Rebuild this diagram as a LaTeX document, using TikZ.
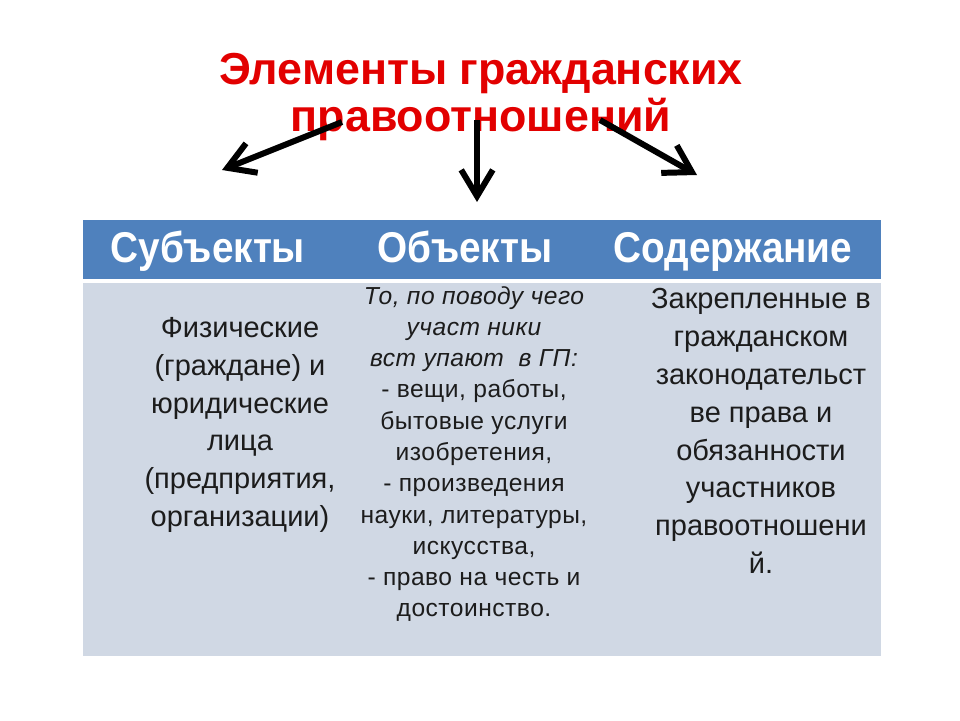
\documentclass[tikz,border=0pt]{standalone}
\usepackage{fontspec}
\setmainfont{Liberation Sans}
\newfontfamily\headfont[FakeStretch=0.9]{Liberation Sans}
\newfontfamily\objfont[LetterSpace=2]{Liberation Sans}
\definecolor{head-blue}{RGB}{79,129,189}
\definecolor{body-blue}{RGB}{208,216,228}
\definecolor{title-red}{RGB}{226,0,0}
\definecolor{ink}{RGB}{28,28,28}
\usetikzlibrary{positioning,arrows.meta}

\begin{document}
\begin{tikzpicture}
[
  x=0.02cm, y=-0.02cm,
  headtext/.style={anchor=base,text=white,font=\headfont\bfseries\fontsize{24.5}{28}\selectfont},
  celltext/.style={align=center,text=ink,font=\fontsize{16.5}{21.5}\selectfont},
  arr/.style={line width=3.4pt,-{Straight Barb[length=15pt,width=18pt,line join=miter]}},
]
\useasboundingbox (0,0) rectangle (960,720);
\fill[white] (0,0) rectangle (960,720);
\fill[head-blue] (83,220) rectangle (881,279);
\fill[body-blue] (83,283) rectangle (881,656);

\node[align=center,text=title-red,font=\bfseries\fontsize{25.5}{26.6}\selectfont] (title) at (481,97)
  {Элементы гражданских\\правоотношений};

\node[headtext] (subj) at (208,262) {Субъекты};
\node[headtext] (obj) at (465,262) {Объекты};
\node[headtext] (cont) at (733,262) {Содержание};

\node[celltext] (subjtext) at (240,425)
  {Физические\\(граждане) и\\юридические\\лица\\(предприятия,\\организации)};
\node[celltext,font=\objfont\fontsize{14}{17.8}\selectfont] (objtext) at (474,454)
  {\itshape То, по поводу чего\\\itshape участ ники\\\itshape вст упают\ \ в ГП:\\
   - вещи, работы,\\бытовые услуги\\изобретения,\\- произведения\\науки, литературы,\\
   искусства,\\- право на честь и\\достоинство.};
\node[celltext] (conttext) at (761,431)
  {Закрепленные в\\гражданском\\законодательст\\ве права и\\обязанности\\участников\\правоотношени\\й.};

\coordinate (lfrom) at (342,122);
\coordinate (lto) at (222,170);
\coordinate (mfrom) at (477,120);
\coordinate (mto) at (477,202);
\coordinate (rfrom) at (600,120);
\coordinate (rto) at (697,175);
\draw[arr] (lfrom) -- (lto);
\draw[arr] (mfrom) -- (mto);
\draw[arr] (rfrom) -- (rto);
\end{tikzpicture}
\end{document}
